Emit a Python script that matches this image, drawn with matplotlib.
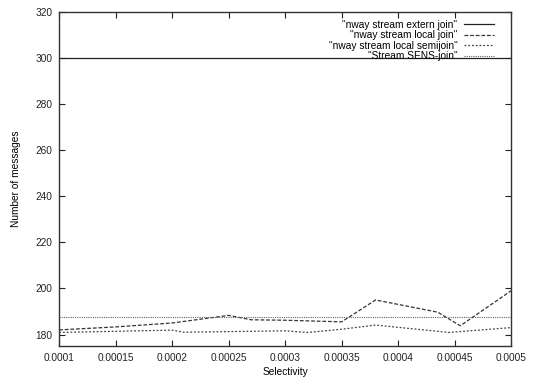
import matplotlib
matplotlib.use("Agg")
import matplotlib.pyplot as plt

# ---- data ----
x_ticks = [0.0001, 0.00015, 0.0002, 0.00025, 0.0003, 0.00035, 0.0004, 0.00045, 0.0005]
x_tick_labels = ["0.0001", "0.00015", "0.0002", "0.00025", "0.0003", "0.00035", "0.0004", "0.00045", "0.0005"]
y_ticks = [180, 200, 220, 240, 260, 280, 300, 320]

extern_x = [0.0001, 0.0005]
extern_y = [300, 300]

local_x = [0.0001, 0.00015, 0.0002, 0.00025, 0.00027, 0.0003, 0.00035, 0.00038, 0.000435, 0.000455, 0.0005]
local_y = [182.0, 183.3, 185.0, 188.3, 186.4, 186.2, 185.5, 195.0, 189.7, 183.8, 199.0]

semi_x = [0.0001, 0.0002, 0.00021, 0.0003, 0.00032, 0.00035, 0.00038, 0.000445, 0.0005]
semi_y = [180.9, 181.9, 181.0, 181.6, 180.9, 182.3, 184.1, 180.9, 183.0]

sens_x = [0.0001, 0.0005]
sens_y = [187.5, 187.5]

labels = ['"nway stream extern join"', '"nway stream local join"',
          '"nway stream local semijoin"', '"Stream SENS-join"']

plt.rcParams['font.family'] = ['Liberation Sans', 'DejaVu Sans']

fig = plt.figure(figsize=(5.33, 3.79), dpi=100)
ax = fig.add_axes([0.111, 0.087, 0.848, 0.881])

ax.plot(extern_x, extern_y, color='#222222', lw=0.9, ls='-', label=labels[0])
ax.plot(local_x, local_y, color='#333333', lw=0.9, ls=(0, (3, 1.5)), label=labels[1])
ax.plot(semi_x, semi_y, color='#444444', lw=0.9, ls=(0, (1.5, 1.5)), label=labels[2])
ax.plot(sens_x, sens_y, color='#666666', lw=0.8, ls=(0, (1, 1)), label=labels[3])

ax.set_xlim(0.0001, 0.0005)
ax.set_ylim(175, 320)
ax.set_xticks(x_ticks)
ax.set_xticklabels(x_tick_labels)
ax.set_yticks(y_ticks)
ax.tick_params(direction='in', top=True, right=True, length=4, width=0.8,
               labelsize=7.3, pad=5, colors='#222222')
for s in ax.spines.values():
    s.set_linewidth(1.0)
    s.set_color('#333333')

ax.set_xlabel('Selectivity', fontsize=7.3, labelpad=3)
ax.set_ylabel('Number of messages', fontsize=7.3, labelpad=10)

leg = ax.legend(loc='upper right', bbox_to_anchor=(0.975, 0.995), fontsize=7.3,
                frameon=False, markerfirst=False, handlelength=2.9,
                labelspacing=0.05, handletextpad=0.7, borderaxespad=0.2)

fig.savefig('out.png', dpi=100)
